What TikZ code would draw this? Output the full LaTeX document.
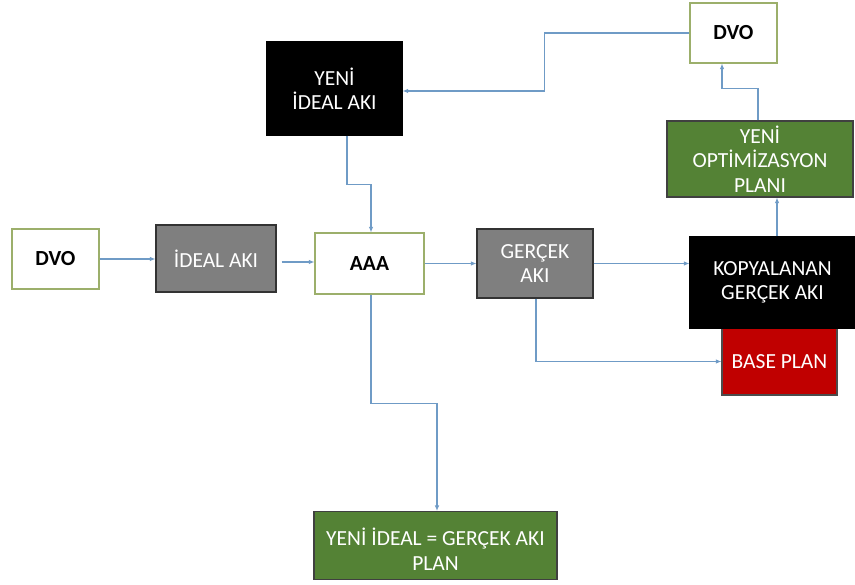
\documentclass[tikz,border=0pt]{standalone}
\usepackage{fontspec}
\setmainfont{Carlito}
\usetikzlibrary{arrows.meta}
\definecolor{arrc}{HTML}{6F9BC6}
\definecolor{greyf}{HTML}{7F7F7F}
\definecolor{greenf}{HTML}{548235}
\definecolor{redf}{HTML}{C00000}
\definecolor{oliveb}{HTML}{9CAF6B}
\tikzset{
  box/.style={rectangle, inner sep=0pt, align=center, font=\fontsize{21.5}{24.5}\selectfont, line width=1.1pt},
  whitebox/.style={box, draw=oliveb, fill=white, text=black, font=\fontsize{21.5}{24.5}\selectfont\bfseries},
  greybox/.style={box, draw=black!80, fill=greyf, text=white},
  blackbox/.style={box, draw=black, fill=black, text=white},
  greenbox/.style={box, draw=black!75, fill=greenf, text=white},
  redbox/.style={box, draw=black!70, fill=redf, text=white},
  arr/.style={draw=arrc, line width=1.1pt, -{Latex[length=5.5pt,width=4.5pt]}}
}
\begin{document}
\begin{tikzpicture}[x=1pt,y=-1pt]
\useasboundingbox (0,0) rectangle (855,585);
\clip (0,0) rectangle (855,585);
\fill[white] (0,0) rectangle (855,585);
% nodes
\node[whitebox, minimum width=87, minimum height=60] (dvo1) at (55.5,259) {DVO};
\node[greybox, minimum width=120, minimum height=67] (ideal) at (216,258.5) {İDEAL AKI};
\node[whitebox, minimum width=109, minimum height=61] (aaa) at (369.5,263.5) {AAA};
\node[greybox, minimum width=116, minimum height=69] (gercek) at (535,263.5) {GERÇEK\\AKI};
\node[redbox, minimum width=115, minimum height=67] (base) at (779.5,361.5) {BASE PLAN};
\node[blackbox, minimum width=165, minimum height=91] (kop) at (772.5,282.5) {KOPYALANAN\\GERÇEK AKI};
\node[greenbox, minimum width=186, minimum height=76] (opt) at (760,159) {YENİ\\OPTİMİZASYON\\PLANI};
\node[whitebox, minimum width=87, minimum height=60] (dvo2) at (733.5,33) {DVO};
\node[blackbox, minimum width=135, minimum height=93] (yeni) at (334.5,88.5) {YENİ\\İDEAL AKI};
\node[greenbox, minimum width=243, minimum height=68, anchor=north] (bot) at (435.5,511) {};
\node[box, text=white] (botlabel) at (435.5,549) {YENİ İDEAL = GERÇEK AKI\\PLAN};
% connectors
\draw[arr] (dvo1.east) -- (dvo1.east -| ideal.west);
\draw[arr] ([xshift=5pt,yshift=-3.5pt]ideal.east) -- ([yshift=-3.5pt]ideal.east -| aaa.west);
\draw[arr] (aaa.east) -- (aaa.east -| gercek.west);
\draw[arr] (gercek.east) -- (gercek.east -| kop.west);
\draw[arr] ([xshift=1pt]gercek.south) |- (base.west);
\draw[arr] ([xshift=4.5pt]kop.north) -- ([xshift=4.5pt]kop.north |- opt.south);
\draw[arr] ([xshift=-2pt]opt.north) -- ++(0,-32) -| ([xshift=-11.5pt]dvo2.south);
\draw[arr] (dvo2.west) -- ++(-145,0) |- ([yshift=-2.5pt]yeni.east);
\draw[arr] ([xshift=12.5pt]yeni.south) -- ++(0,49) -| ([xshift=1.5pt]aaa.north);
\draw[arr] ([xshift=1.5pt]aaa.south) -- ++(0,109) -| ([xshift=1.5pt]bot.north);
\end{tikzpicture}
\end{document}
